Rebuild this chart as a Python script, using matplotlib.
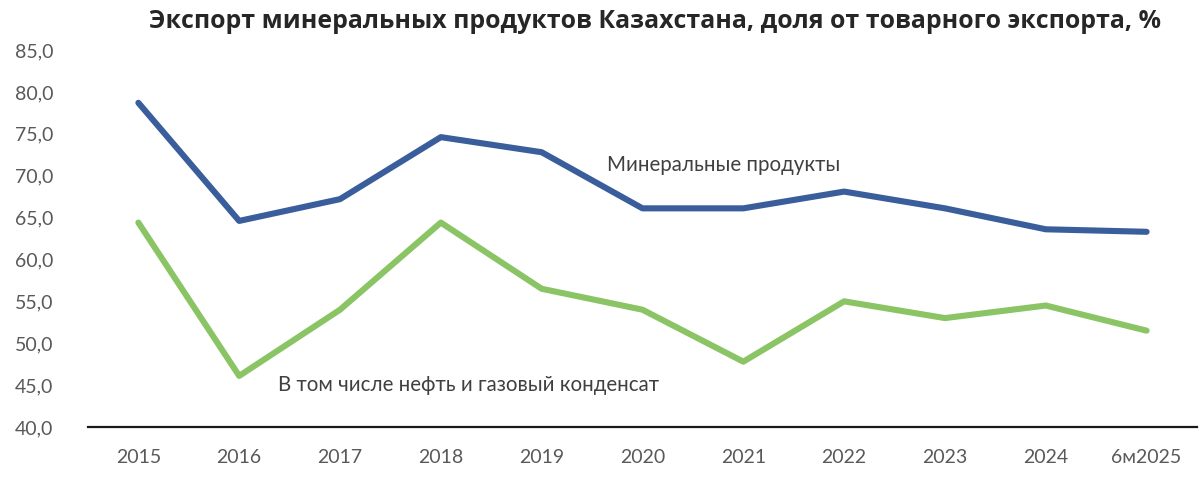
import matplotlib
matplotlib.use('Agg')
import matplotlib.pyplot as plt
from matplotlib.ticker import FuncFormatter

years = ['2015', '2016', '2017', '2018', '2019', '2020', '2021', '2022', '2023', '2024', '6м2025']
mineral = [78.7, 64.6, 67.2, 74.6, 72.8, 66.1, 66.1, 68.1, 66.1, 63.6, 63.3]
oil_gas = [64.4, 46.1, 54.0, 64.4, 56.5, 54.0, 47.8, 55.0, 53.0, 54.5, 51.5]

plt.rcParams['font.family'] = ['Lato', 'DejaVu Sans']

fig = plt.figure(figsize=(12, 4.86), dpi=100)
ax = fig.add_axes([0.0733, 0.1214, 0.9242, 0.7757])

x = range(len(years))
ax.plot(x, mineral, color='#3A5E9C', lw=4.4, solid_capstyle='round', solid_joinstyle='round')
ax.plot(x, oil_gas, color='#8AC464', lw=4.4, solid_capstyle='round', solid_joinstyle='round')

ax.set_xlim(-0.5, len(years) - 0.5)
ax.set_ylim(40, 85)
ax.set_yticks(range(40, 86, 5))
ax.yaxis.set_major_formatter(FuncFormatter(lambda v, p: f'{v:.1f}'.replace('.', ',')))
ax.set_xticks(list(x))
ax.set_xticklabels(years)

for s in ['top', 'right', 'left']:
    ax.spines[s].set_visible(False)
ax.spines['bottom'].set_color('#1a1a1a')
ax.spines['bottom'].set_linewidth(1.6)
ax.tick_params(axis='both', length=0, labelsize=14, labelcolor='#595959')
ax.tick_params(axis='y', pad=25)
ax.tick_params(axis='x', pad=16)

ax.text(4.65, 71.3, 'Минеральные продукты', fontsize=14.8, color='#404040', va='center', ha='left')
ax.text(1.38, 45.0, 'В том числе нефть и газовый конденсат', fontsize=14.8, color='#404040', va='center', ha='left')

fig.text(0.546, 0.955, 'Экспорт минеральных продуктов Казахстана, доля от товарного экспорта, %',
         fontsize=17.9, fontweight='bold', color='#262626', ha='center', va='center',
         family=['Open Sans', 'DejaVu Sans'])

fig.savefig('out.png', dpi=100, facecolor='white')
